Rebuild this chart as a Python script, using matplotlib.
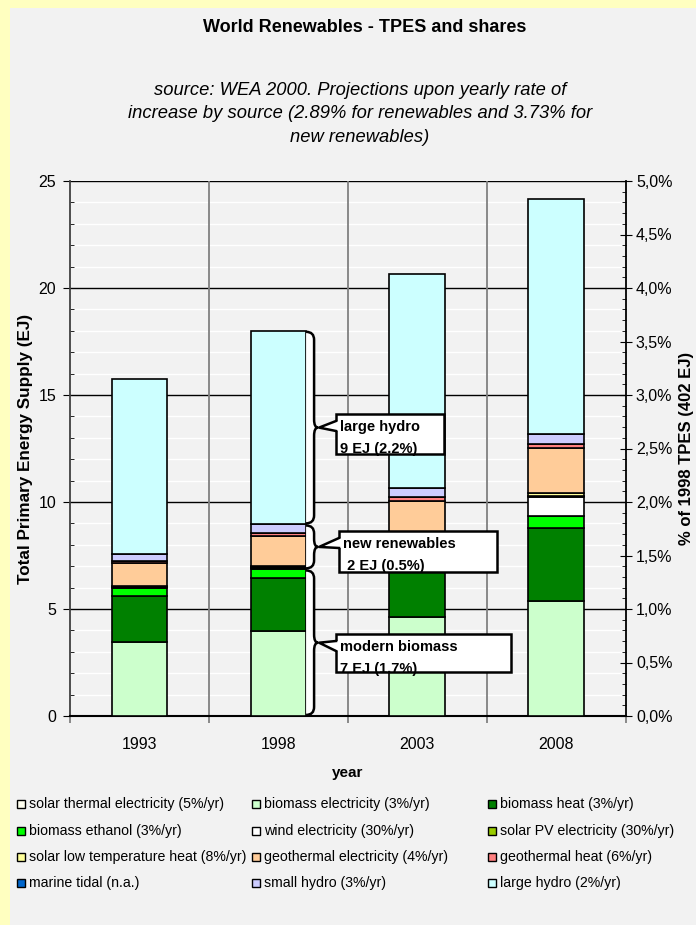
import numpy as np
import matplotlib
matplotlib.use('Agg')
import matplotlib.pyplot as plt
from matplotlib.patches import Rectangle, PathPatch, Polygon
from matplotlib.path import Path
from matplotlib.lines import Line2D

plt.rcParams['font.family'] = ['Liberation Sans', 'DejaVu Sans']

# data (EJ)
years = ['1993', '1998', '2003', '2008']
names = ['solar thermal electricity (5%/yr)', 'biomass electricity (3%/yr)', 'biomass heat (3%/yr)',
         'biomass ethanol (3%/yr)', 'wind electricity (30%/yr)', 'solar PV electricity (30%/yr)',
         'solar low temperature heat (8%/yr)', 'geothermal electricity (4%/yr)', 'geothermal heat (6%/yr)',
         'marine tidal (n.a.)', 'small hydro (3%/yr)', 'large hydro (2%/yr)']
colors = ['#FFFFF0', '#CCFFCC', '#008000', '#00FF00', '#FFFFFF', '#99CC00',
          '#FFFF99', '#FFCC99', '#FF8080', '#0066CC', '#CCCCFF', '#CCFFFF']
solar_thermal = [0.01, 0.01, 0.013, 0.017]
biomass_elec = [3.46, 3.96, 4.62, 5.37]
biomass_heat = [2.14, 2.50, 2.90, 3.40]
biomass_ethanol = [0.38, 0.38, 0.44, 0.55]
wind = [0.02, 0.08, 0.30, 0.88]
solar_pv = [0.005, 0.01, 0.04, 0.07]
solar_lowtemp = [0.04, 0.07, 0.10, 0.12]
geo_elec = [1.10, 1.40, 1.65, 2.10]
geo_heat = [0.10, 0.12, 0.15, 0.20]
marine = [0.002, 0.002, 0.002, 0.002]
small_hydro = [0.30, 0.42, 0.45, 0.47]
large_hydro = [8.20, 9.05, 10.00, 11.00]
series = [solar_thermal, biomass_elec, biomass_heat, biomass_ethanol, wind, solar_pv,
          solar_lowtemp, geo_elec, geo_heat, marine, small_hydro, large_hydro]

W, H = 696, 925
fig = plt.figure(figsize=(W / 100, H / 100), dpi=100, facecolor='#FFFFC0')
fig.patches.append(Rectangle((10 / W, 0), 1 - 10 / W, 1 - 8 / H, transform=fig.transFigure,
                             facecolor='#F2F2F2', edgecolor='none', zorder=-5))

ax = fig.add_axes([70 / W, (H - 716) / H, 555.5 / W, 535 / H])
ax.set_facecolor('#F2F2F2')
x = np.arange(len(years))
bottom = np.zeros(len(years))
for vals, c in zip(series, colors):
    ax.bar(x, vals, 0.4, bottom=bottom, color=c, edgecolor='black', linewidth=1.2, zorder=3)
    bottom += np.array(vals)

ax.set_xlim(-0.5, 3.5)
ax.set_ylim(0, 25)
ax.set_xticks(x)
ax.set_xticklabels(years)
ax.set_xticks([-0.5, 0.5, 1.5, 2.5, 3.5], minor=True)
ax.set_yticks(range(0, 26, 5))
ax.set_yticks(range(0, 26, 1), minor=True)
ax.set_axisbelow(True)
ax.yaxis.grid(True, which='minor', color='white', lw=1)
for xb in [0.5, 1.5, 2.5]:
    ax.axvline(xb, color='#808080', lw=1.3, zorder=1)
ax.yaxis.grid(True, which='major', color='black', lw=1, zorder=1.5)
ax.tick_params(axis='x', which='major', length=0, pad=15, labelsize=11.5)
ax.tick_params(axis='x', which='minor', length=5, direction='out', color='#808080', width=1.3)
ax.tick_params(axis='y', which='major', length=5, direction='out', labelsize=11.5, pad=5)
ax.tick_params(axis='y', which='minor', length=3, direction='in')
for s in ['top', 'right']:
    ax.spines[s].set_visible(False)
ax.spines['left'].set_color('#404040')
ax.spines['left'].set_linewidth(1.3)
ax.spines['bottom'].set_linewidth(1.5)
ax.set_xlabel('year', fontsize=11, weight='bold')
ax.xaxis.set_label_coords(0.5, -0.093)
ax.set_ylabel('Total Primary Energy Supply (EJ)', fontsize=12.3, weight='bold')
ax.yaxis.set_label_coords(-0.066, 0.5)

ax2 = ax.twinx()
ax2.set_ylim(0, 5)
ax2.set_yticks(np.arange(0, 5.01, 0.5))
ax2.set_yticks(np.arange(0, 5.01, 0.1), minor=True)
ax2.yaxis.set_major_formatter(lambda v, _: f'{v:.1f}%'.replace('.', ','))
ax2.tick_params(axis='y', which='major', direction='inout', length=9, labelsize=11.5, pad=3)
ax2.tick_params(axis='y', which='minor', direction='in', length=3)
for s in ['top', 'left', 'bottom']:
    ax2.spines[s].set_visible(False)
ax2.spines['right'].set_linewidth(1.3)
ax2.set_ylabel('% of 1998 TPES (402 EJ)', fontsize=12, weight='bold', rotation=90)
ax2.yaxis.set_label_coords(1.097, 0.5)

# braces and callouts for 1998
px = 4 / 555.5      # data x per pixel
py = 25 / 535       # data y per pixel
i98 = 1
cum = np.cumsum([s[i98] for s in series])
groups = [('modern biomass\n7 EJ (1.7%)', 0, cum[3], (336, 511, 634, 672)),
          ('new renewables\n 2 EJ (0.5%)', cum[3], cum[10], (339, 497, 531, 572)),
          ('large hydro\n9 EJ (2.2%)', cum[10], cum[11], (336, 444, 414, 454))]


def to_data(xp, yp):
    return -0.5 + (xp - 70) * px, (716 - yp) * py


x0 = i98 + 0.2
xa = x0 + 8 * px
xt = x0 + 12 * px
r = 8 * py
for label, y0, y1, (bl, br, bt, bb) in groups:
    y0g, y1g = y0 + 0.05, y1 - 0.05
    ym = (y0g + y1g) / 2
    verts = [(x0, y0g), (xa, y0g), (xa, y0g + r), (xa, ym - r), (xa, ym), (xt, ym),
             (xa, ym), (xa, ym + r), (xa, y1g - r), (xa, y1g), (x0, y1g)]
    codes = [Path.MOVETO, Path.CURVE3, Path.CURVE3, Path.LINETO, Path.CURVE3, Path.CURVE3,
             Path.CURVE3, Path.CURVE3, Path.LINETO, Path.CURVE3, Path.CURVE3]
    path = Path(verts, codes)
    ax.add_patch(PathPatch(path, facecolor='white', edgecolor='none', zorder=4))
    ax.add_patch(PathPatch(path, facecolor='none', edgecolor='black', lw=1.8, zorder=5))
    # box
    bx0, by0 = to_data(bl, bb)
    bx1, by1 = to_data(br, bt)
    rect = Rectangle((bx0, by0), bx1 - bx0, by1 - by0, facecolor='white',
                     edgecolor='black', lw=1.8, zorder=6)
    ax.add_patch(rect)
    # pointer
    ya = by1 - 7 * py
    yb = by1 - 17 * py
    tip = (xt + 1 * px, ym)
    ax.add_patch(Polygon([(bx0 + 2 * px, ya), tip, (bx0 + 2 * px, yb)], closed=True,
                         facecolor='white', edgecolor='none', zorder=7))
    ax.add_line(Line2D([bx0, tip[0], bx0], [ya, tip[1], yb], color='black', lw=1.8, zorder=8))
    t = ax.text(bx0 + 4 * px, by1 - 6 * py, label, ha='left', va='top', fontsize=10.5,
                weight='bold', linespacing=1.7, zorder=9)
    t.set_clip_path(rect)

# titles
fig.text(365 / W, 1 - 27 / H, 'World Renewables - TPES and shares', ha='center', va='center',
         fontsize=13, weight='bold')
fig.text(360 / W, 1 - 114 / H,
         'source: WEA 2000. Projections upon yearly rate of\n'
         'increase by source (2.89% for renewables and 3.73% for\n'
         'new renewables)', ha='center', va='center', fontsize=13.2, style='italic',
         linespacing=1.5)

# legend (row-major, 3 columns)
col_x = [17, 252, 488]
row_y = [804, 831, 857, 883]
for k, (name, c) in enumerate(zip(names, colors)):
    cx = col_x[k % 3]
    cy = row_y[k // 3]
    fig.patches.append(Rectangle((cx / W, 1 - (cy + 4) / H), 8 / W, 8 / H, transform=fig.transFigure,
                                 facecolor=c, edgecolor='black', lw=1, zorder=3))
    fig.text((cx + 12) / W, 1 - cy / H, name, ha='left', va='center', fontsize=10.2)

fig.savefig('out.png', dpi=100, facecolor=fig.get_facecolor())
